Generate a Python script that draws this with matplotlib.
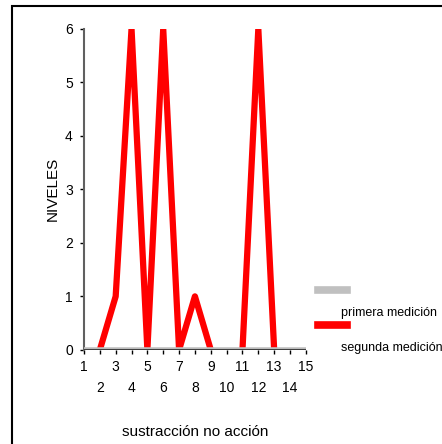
import numpy as np
import matplotlib
matplotlib.use("Agg")
import matplotlib.pyplot as plt
from matplotlib.lines import Line2D
from matplotlib.patches import Rectangle

plt.rcParams['font.family'] = ['Liberation Sans', 'DejaVu Sans']

# niveles por sustracción
sustraccion = np.arange(1, 16)
primera = [0, 0, 0, 0, 0, 0, 0, 0, 0, 0, 0, 0, 0, 0, 0]
segunda = [np.nan, 0, 1, 6, 0, 6, 0, 1, 0, np.nan, 0, 6, 0, np.nan, np.nan]
etiquetas = [str(v) if v % 2 else "\n" + str(v) for v in sustraccion]

fig = plt.figure(figsize=(4.42, 4.44), dpi=100)
ax = fig.add_axes([0.19, 0.212, 0.502, 0.723])

ax.plot(sustraccion, segunda, color='#ff0000', lw=4.5, zorder=2)
ax.plot(sustraccion, primera, color='#c0c0c0', lw=4, zorder=3)
ax.axhline(0, color='#404040', lw=1.5, zorder=4)

ax.set_xlim(1, 15)
ax.set_ylim(0, 6)
ax.set_xticks(sustraccion)
ax.set_xticklabels(etiquetas, fontsize=10)
for t in ax.get_xticklabels():
    t.set_linespacing(1.65)
ax.set_yticks(range(0, 7))
ax.tick_params(axis='y', length=3, width=1, color='black', pad=5, labelsize=10)
ax.tick_params(axis='x', length=3, width=1, color='black', pad=4, labelsize=10)

for s in ['top', 'right', 'bottom']:
    ax.spines[s].set_visible(False)
ax.spines['left'].set_color('#606060')
ax.spines['left'].set_linewidth(1.5)

ax.set_xlabel("sustracción no acción", fontsize=11, labelpad=22)
ax.set_ylabel("NIVELES", fontsize=11, labelpad=4)

# leyenda
fig.add_artist(Line2D([318 / 442, 347 / 442], [1 - 290 / 444] * 2, color='#c0c0c0', lw=5.5))
fig.add_artist(Line2D([318 / 442, 347 / 442], [1 - 325 / 444] * 2, color='#ff0000', lw=5.5))
fig.text(341 / 442, 1 - 313 / 444, "primera medición", fontsize=9, va='center')
fig.text(341 / 442, 1 - 348 / 444, "segunda medición", fontsize=9, va='center')

# marco exterior
fig.add_artist(Rectangle((12 / 442, -0.1), 1.2, 1 - 6 / 444 + 0.1,
                         transform=fig.transFigure, fill=False, ec='black', lw=1.5))

fig.savefig("out.png", dpi=100)
